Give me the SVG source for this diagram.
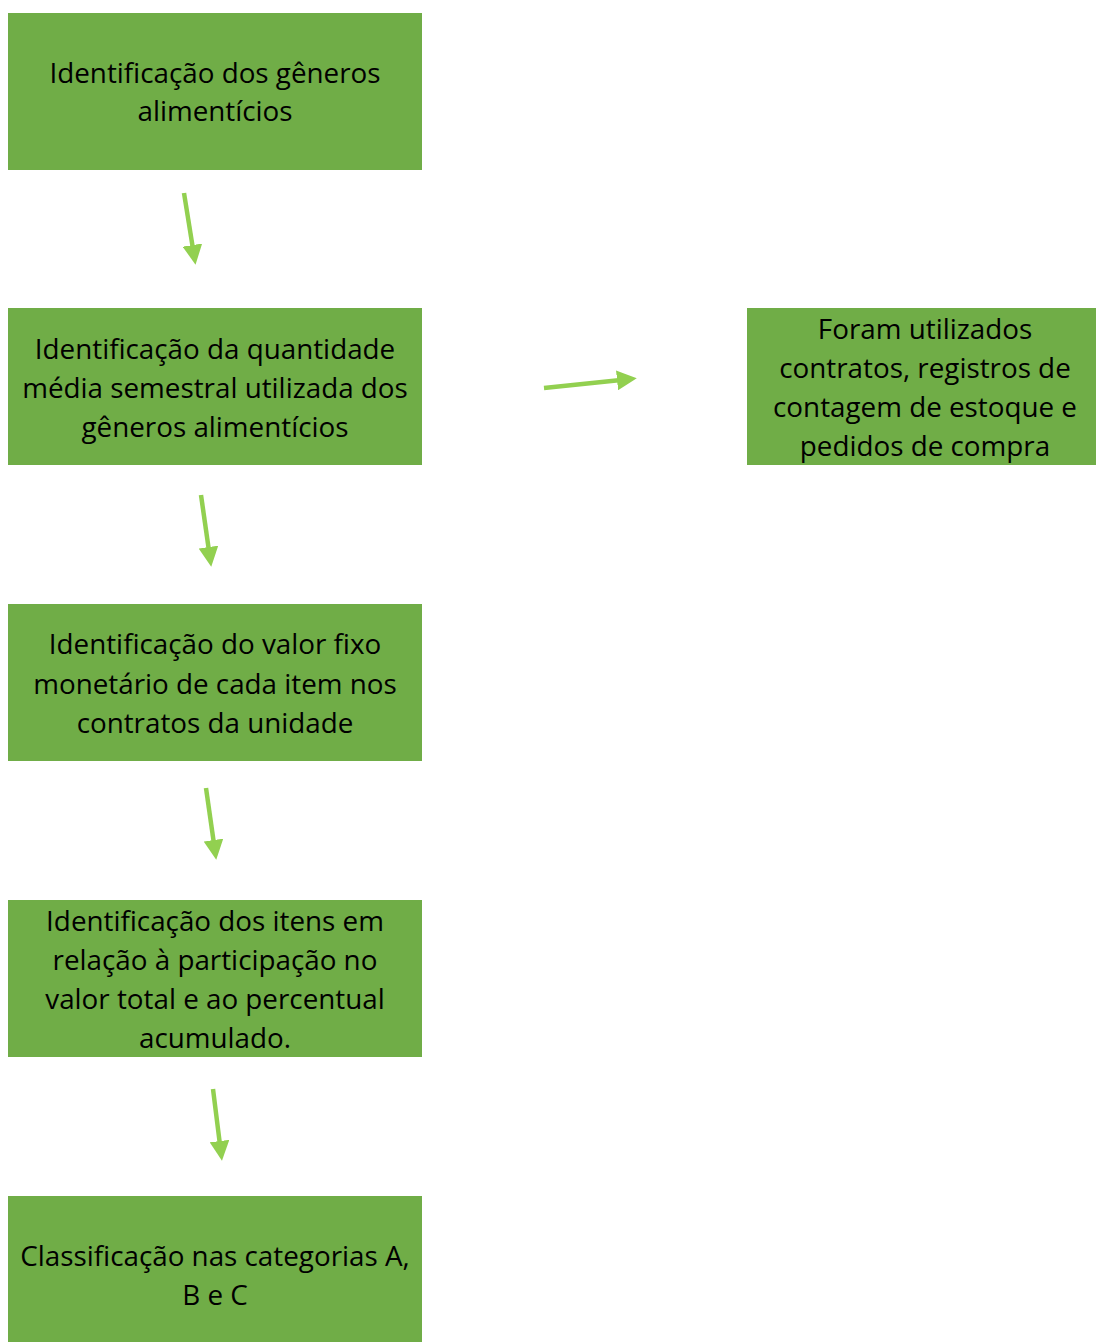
<svg xmlns="http://www.w3.org/2000/svg" width="1096" height="1342" viewBox="0 0 1096 1342">
<defs>
<style>
.box{fill:#70AD47}
.t{font-family:"Open Sans","Liberation Sans",sans-serif;font-size:27.8px;fill:#000;text-anchor:middle}
.arr{stroke:#92D050;stroke-width:4.5;fill:none;marker-end:url(#ah)}
</style>
<marker id="ah" viewBox="0 0 10 10" refX="2" refY="5" markerWidth="4.4" markerHeight="4.4" orient="auto" markerUnits="strokeWidth">
<path d="M0,0 L10,5 L0,10 z" fill="#92D050"/>
</marker>
</defs>
<rect width="1096" height="1342" fill="#fff"/>
<g id="n1"><rect class="box" x="8" y="13" width="414" height="157"/>
<text class="t" x="215" y="83">Identificação dos gêneros</text>
<text class="t" x="215" y="121">alimentícios</text></g>
<g id="n2"><rect class="box" x="8" y="308" width="414" height="157"/>
<text class="t" x="215" y="359">Identificação da quantidade</text>
<text class="t" x="215" y="398">média semestral utilizada dos</text>
<text class="t" x="215" y="437">gêneros alimentícios</text></g>
<g id="n3"><rect class="box" x="8" y="604" width="414" height="157"/>
<text class="t" x="215" y="654">Identificação do valor fixo</text>
<text class="t" x="215" y="694">monetário de cada item nos</text>
<text class="t" x="215" y="733">contratos da unidade</text></g>
<g id="n4"><rect class="box" x="8" y="900" width="414" height="157"/>
<text class="t" x="215" y="931">Identificação dos itens em</text>
<text class="t" x="215" y="970">relação à participação no</text>
<text class="t" x="215" y="1009">valor total e ao percentual</text>
<text class="t" x="215" y="1048">acumulado.</text></g>
<g id="n5"><rect class="box" x="8" y="1196" width="414" height="146"/>
<text class="t" x="215" y="1266">Classificação nas categorias A,</text>
<text class="t" x="215" y="1305">B e C</text></g>
<g id="n6"><rect class="box" x="747" y="308" width="349" height="157"/>
<text class="t" x="925" y="339">Foram utilizados</text>
<text class="t" x="925" y="378">contratos, registros de</text>
<text class="t" x="925" y="417">contagem de estoque e</text>
<text class="t" x="925" y="456">pedidos de compra</text></g>
<g id="connectors">
<line class="arr" x1="184" y1="193" x2="193" y2="249"/>
<line class="arr" x1="201" y1="495" x2="209" y2="551"/>
<line class="arr" x1="206" y1="788" x2="214" y2="844"/>
<line class="arr" x1="213" y1="1089" x2="220" y2="1145"/>
<line class="arr" x1="544" y1="388" x2="621" y2="380"/>
</g>
</svg>
